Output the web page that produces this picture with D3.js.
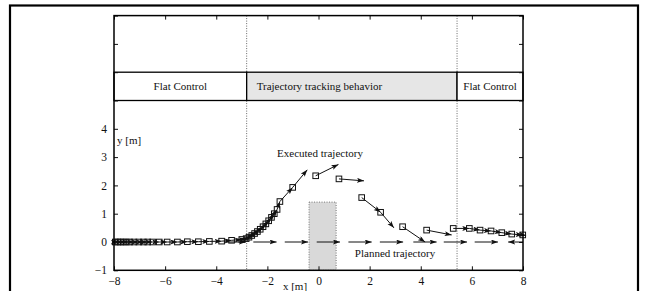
<!DOCTYPE html>
<html>
<head>
<meta charset="utf-8">
<script src="https://cdn.jsdelivr.net/npm/d3@7"></script>
<style>
  body { margin: 0; background: #fff; }
  text { font-family: "Liberation Serif", "DejaVu Serif", serif; fill: #111; }
</style>
</head>
<body>
<div id="chart"></div>
<script>
const WIDTH = 647;
const HEIGHT = 291;

// axis ticks
var X_TICKS = [-8, -6, -4, -2, 0, 2, 4, 6, 8];
var Y_TICKS = [-1, 0, 1, 2, 3, 4, 5, 6, 7, 8];
var Y_LABELS = [-1, 0, 1, 2, 3, 4];

// behaviour bands (x range in metres)
var BAND_NAMES = ["Flat Control", "Trajectory tracking behavior", "Flat Control"];
var BAND_START = [-8, -2.81, 5.42];
var BAND_END = [-2.81, 5.42, 8];
var BAND_SHADED = [false, true, false];
var SWITCH_X = [-2.81, 5.42];

// obstacle
var OBST_X = [-0.37, 0.69];
var OBST_Y = [-1, 1.41];

// planned trajectory (quiver arrows along y = 0)
var PLAN_FROM = [-3.7, -2.55, -1.32, -0.07, 1.17, 2.4, 3.71, 4.9, 6.11, 8.0];
var PLAN_TO = [-2.84, -1.64, -0.41, 0.84, 2.08, 3.31, 4.62, 5.81, 7.02, 7.42];

// executed trajectory: sampled positions
var EXEC_X = [-7.95, -7.85, -7.75, -7.64, -7.52, -7.39, -7.22, -7.03, -6.85, -6.68,
  -6.49, -6.23, -5.92, -5.52, -5.13, -4.7, -4.27, -3.79, -3.4, -3.0,
  -2.83, -2.72, -2.61, -2.5, -2.39, -2.28, -2.17, -2.06, -1.95, -1.84,
  -1.73, -1.62, -1.51, -1.01,
  -0.11, 0.8, 1.69, 2.43, 3.29, 4.23,
  5.27, 5.9, 6.32, 6.75, 7.17, 7.56, 7.99];
var EXEC_Y = [0, 0, 0, 0, 0, 0, 0, 0, 0, 0,
  0, 0, 0, 0, 0.01, 0.01, 0.02, 0.03, 0.06, 0.09,
  0.12, 0.17, 0.23, 0.3, 0.37, 0.45, 0.54, 0.64, 0.75, 0.87,
  1.0, 1.15, 1.43, 1.93,
  2.34, 2.23, 1.57, 1.05, 0.54, 0.42,
  0.48, 0.48, 0.42, 0.39, 0.33, 0.28, 0.25];
// arrow tips where the arrow does not reach the next sample
var TIP_X = {33: -0.44, 34: 0.78, 35: 1.78, 37: 2.95, 38: 4.17, 39: 5.21, 46: 8.12};
var TIP_Y = {33: 2.55, 34: 2.74, 35: 2.16, 37: 0.5, 38: 0.0, 39: 0.25, 46: 0.23};

var x = d3.scaleLinear().domain([-8, 8]).range([114, 523]);
var y = d3.scaleLinear().domain([-1, 8]).range([270.3, 15.6]);

var svg = d3.select("#chart").append("svg")
  .attr("width", WIDTH).attr("height", HEIGHT);

var defs = svg.append("defs");
defs.append("marker")
  .attr("id", "head")
  .attr("markerUnits", "userSpaceOnUse")
  .attr("markerWidth", 8).attr("markerHeight", 6)
  .attr("refX", 7).attr("refY", 2.5)
  .attr("orient", "auto")
  .append("path").attr("d", "M0,0 L7,2.5 L0,5 L1.5,2.5 z").attr("fill", "#111");

// outer frame
svg.append("rect")
  .attr("x", 10).attr("y", 5.5).attr("width", 628).attr("height", 300)
  .attr("fill", "none").attr("stroke", "#000").attr("stroke-width", 2.2);

// obstacle
svg.append("rect")
  .attr("x", x(OBST_X[0])).attr("y", y(OBST_Y[1]))
  .attr("width", x(OBST_X[1]) - x(OBST_X[0]))
  .attr("height", y(OBST_Y[0]) - y(OBST_Y[1]))
  .attr("fill", "#d9d9d9").attr("stroke", "#777")
  .attr("stroke-width", 1).attr("stroke-dasharray", "1,1.5");

// switching lines
svg.selectAll(".switch").data(SWITCH_X).enter().append("line")
  .attr("class", "switch")
  .attr("x1", (d) => x(d)).attr("x2", (d) => x(d))
  .attr("y1", y(8)).attr("y2", y(-1))
  .attr("stroke", "#666").attr("stroke-width", 1).attr("stroke-dasharray", "1,1.5");

// bands
var bands = svg.append("g").selectAll("g").data(BAND_NAMES).enter().append("g");
bands.append("rect")
  .attr("x", (d, i) => x(BAND_START[i])).attr("y", y(6))
  .attr("width", (d, i) => x(BAND_END[i]) - x(BAND_START[i]))
  .attr("height", y(5) - y(6))
  .attr("fill", (d, i) => BAND_SHADED[i] ? "#e6e6e6" : "#fff")
  .attr("stroke", "#000").attr("stroke-width", 1.3);
bands.append("text")
  .attr("x", (d, i) => i === 1 ? x(BAND_START[i]) + 10 : (x(BAND_START[i]) + x(BAND_END[i])) / 2)
  .attr("y", (y(5) + y(6)) / 2 + 3.8)
  .attr("text-anchor", (d, i) => i === 1 ? "start" : "middle")
  .attr("font-size", 11)
  .text((d) => d);

// planned trajectory
svg.append("g").selectAll("line").data(PLAN_FROM).enter().append("line")
  .attr("x1", (d) => x(d)).attr("x2", (d, i) => x(PLAN_TO[i]))
  .attr("y1", y(0)).attr("y2", y(0))
  .attr("stroke", "#111").attr("stroke-width", 1)
  .attr("marker-end", "url(#head)");

// executed trajectory arrows
var exec = EXEC_X.map((d, i) => ({
  x: d, y: EXEC_Y[i],
  tx: TIP_X[i] !== undefined ? TIP_X[i] : EXEC_X[i + 1],
  ty: TIP_Y[i] !== undefined ? TIP_Y[i] : EXEC_Y[i + 1]
})).filter((d) => d.tx !== undefined);

svg.append("g").selectAll("line").data(exec).enter().append("line")
  .attr("x1", (d) => x(d.x)).attr("y1", (d) => y(d.y))
  .attr("x2", (d) => x(d.tx)).attr("y2", (d) => y(d.ty))
  .attr("stroke", "#111").attr("stroke-width", 1)
  .attr("marker-end", "url(#head)");

svg.append("g").selectAll("rect").data(EXEC_X).enter().append("rect")
  .attr("x", (d) => x(d) - 2.8).attr("y", (d, i) => y(EXEC_Y[i]) - 2.8)
  .attr("width", 5.6).attr("height", 5.6)
  .attr("fill", "none").attr("stroke", "#111").attr("stroke-width", 1);

// axes (ticks inward)
svg.append("g").attr("transform", "translate(0," + y(-1) + ")")
  .call(d3.axisBottom(x).tickValues(X_TICKS).tickSize(-4).tickPadding(7)
    .tickFormat((d) => d < 0 ? "\u2212" + (-d) : d))
  .call((g) => g.select(".domain").remove())
  .call((g) => g.selectAll("text").attr("font-size", 11.5).attr("font-family", "Liberation Serif").attr("fill", "#111"));
svg.append("g").attr("transform", "translate(0," + y(8) + ")")
  .call(d3.axisTop(x).tickValues(X_TICKS).tickSize(-4).tickFormat(""))
  .call((g) => g.select(".domain").remove());
svg.append("g").attr("transform", "translate(" + x(-8) + ",0)")
  .call(d3.axisLeft(y).tickValues(Y_TICKS).tickSize(-4).tickPadding(7)
    .tickFormat((d) => Y_LABELS.indexOf(d) >= 0 ? (d < 0 ? "\u2212" + (-d) : d) : ""))
  .call((g) => g.select(".domain").remove())
  .call((g) => g.selectAll("text").attr("font-size", 11.5).attr("font-family", "Liberation Serif").attr("fill", "#111"));
svg.append("g").attr("transform", "translate(" + x(8) + ",0)")
  .call(d3.axisRight(y).tickValues(Y_TICKS).tickSize(-4).tickFormat(""))
  .call((g) => g.select(".domain").remove());
svg.selectAll(".tick line").attr("stroke", "#111");

// plot frame
svg.append("rect")
  .attr("x", x(-8)).attr("y", y(8))
  .attr("width", x(8) - x(-8)).attr("height", y(-1) - y(8))
  .attr("fill", "none").attr("stroke", "#000").attr("stroke-width", 1.5);

// labels
svg.append("text").attr("x", 117).attr("y", 144).attr("font-size", 11).text("y [m]");
svg.append("text").attr("x", 295).attr("y", 290).attr("text-anchor", "middle").attr("font-size", 11).text("x [m]");
svg.append("text").attr("x", 320).attr("y", 157).attr("text-anchor", "middle").attr("font-size", 11).text("Executed trajectory");
svg.append("text").attr("x", 395).attr("y", 257).attr("text-anchor", "middle").attr("font-size", 11).text("Planned trajectory");
</script>
</body>
</html>
